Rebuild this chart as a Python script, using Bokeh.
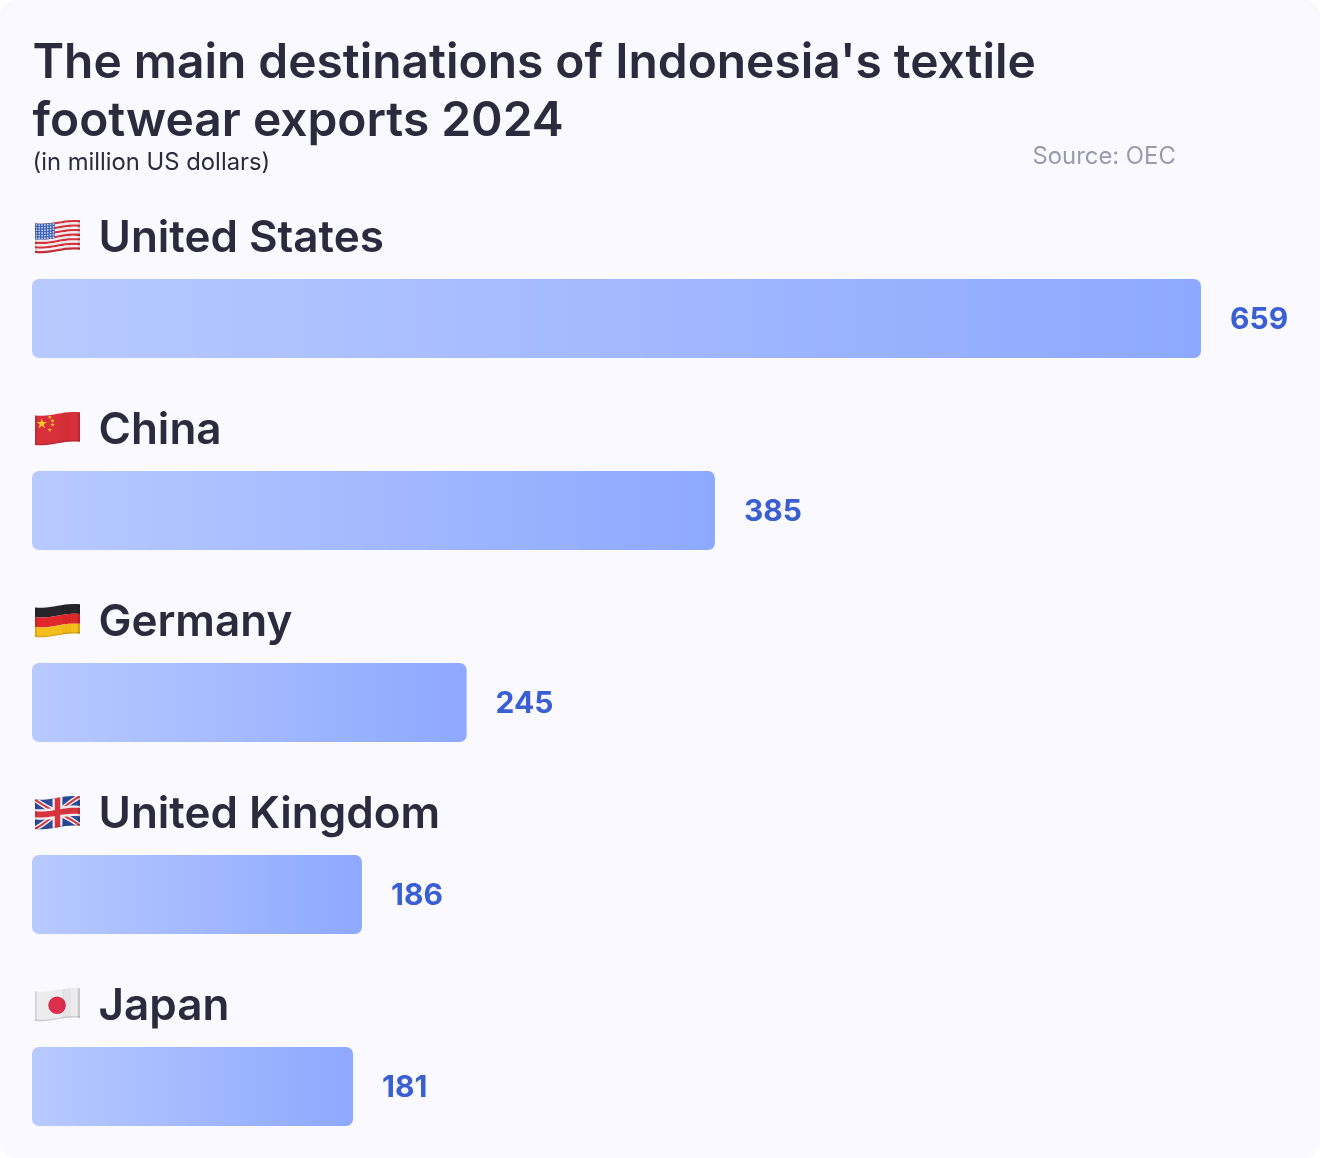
import numpy as np
from bokeh.plotting import figure
from bokeh.models import Range1d
from bokeh.core.properties import value
from bokeh.embed import file_html
from bokeh.resources import INLINE

# ---------- data ----------
countries = ["United States", "China", "Germany", "United Kingdom", "Japan"]
export_values = [659, 385, 245, 186, 181]
flag_codes = ["us", "cn", "de", "gb", "jp"]
title_lines = ["The main destinations of Indonesia's textile", "footwear exports 2024"]
subtitle = "(in million US dollars)"
source_note = "Source: OEC"

# ---------- layout constants ----------
W, H = 1320, 1158
ORIGIN = 32.5
PX_PER_UNIT = 1169 / 659
FIRST_TOP, BAR_H, STEP = 279.5, 79, 192
FONT = value("Inter")
HEAVY = value("Inter SemiBold")
INK = "#2B2B3D"
BG = "#F9F9FF"
C_LEFT = np.array([184, 201, 255])
C_RIGHT = np.array([141, 169, 255])
BASE = 0.37  # svg baseline correction, in em

p = figure(width=W + 1, height=H + 1, output_backend="svg", toolbar_location=None,
           x_range=Range1d(-ORIGIN / PX_PER_UNIT, (W + 1 - ORIGIN) / PX_PER_UNIT),
           y_range=Range1d(H + 1, 0), min_border=0, x_axis_type="linear")
p.styles = {"position": "fixed", "left": "-1px", "top": "-1px"}
p.axis.visible = False
p.grid.visible = False
p.outline_line_color = None
p.background_fill_color = "white"
p.border_fill_color = "white"
p.extra_x_ranges["px"] = Range1d(0, W + 1)

# card
p.quad(left=[0], right=[W + 1], top=[0], bottom=[H + 1], x_range_name="px",
       fill_color=BG, line_color=None, border_radius=18)


# ---------- gradient bars ----------
def hexc(c):
    return "#%02x%02x%02x" % tuple(int(round(v)) for v in c)


for i, val in enumerate(export_values):
    top = FIRST_TOP + i * STEP
    bottom = top + BAR_H
    length = val * PX_PER_UNIT
    inner = np.arange(8, length - 8, 4.0)
    edges_px = np.concatenate([[0], inner, [length]])
    edges = edges_px / PX_PER_UNIT
    mids = (edges_px[:-1] + edges_px[1:]) / 2 / length
    colors = [hexc(C_LEFT + (C_RIGHT - C_LEFT) * x) for x in mids]
    over = 1 / PX_PER_UNIT
    n = len(colors)
    p.quad(left=edges[1:n - 1], right=edges[2:n] + over,
           top=top, bottom=bottom, fill_color=colors[1:-1], line_color=None)
    p.quad(left=[edges[0]], right=[edges[1] + over], top=top, bottom=bottom,
           fill_color=colors[0], line_color=None, border_radius=(7, 0, 0, 7))
    p.quad(left=[edges[-2]], right=[edges[-1]], top=top, bottom=bottom,
           fill_color=colors[-1], line_color=None, border_radius=(0, 7, 7, 0))

# value labels
p.text(x=export_values, y=[FIRST_TOP + i * STEP + 50 - BASE * 30 for i in range(5)],
       text=[str(v) for v in export_values], x_offset=29,
       text_font=FONT, text_font_style="bold", text_font_size="30px",
       text_color="#3A5FD3", text_baseline="alphabetic")

# country labels
p.text(x=[99] * 5, y=[253 - BASE * 44 + i * STEP for i in range(5)], text=countries, x_range_name="px",
       text_font=HEAVY, text_font_size="44px",
       text_color=INK, text_baseline="alphabetic")

# headings
p.text(x=[33, 33], y=[79 - BASE * 48, 137 - BASE * 48], text=title_lines, x_range_name="px",
       text_font=HEAVY, text_font_size="47.9px",
       text_color=INK, text_baseline="alphabetic")
p.text(x=[33], y=[171 - BASE * 24], text=[subtitle], x_range_name="px",
       text_font=FONT, text_font_size="23.8px", text_color=INK, text_baseline="alphabetic")
p.text(x=[1033], y=[165 - BASE * 24], text=[source_note], x_range_name="px",
       text_font=FONT, text_font_size="23.85px", text_color="#9A9AAC", text_baseline="alphabetic")


# ---------- waving flags ----------
FX, FW, FH = 35.5, 45, 29.5


def warp(u, v, ftop):
    u = np.asarray(u, float)
    v = np.asarray(v, float)
    off = -3.3 * (1 - np.cos(np.pi * u)) / 2 + 0.5 * np.sin(2 * np.pi * u)
    return FX + FW * u, ftop + FH * v + off


def poly(pts, ftop, color, alpha=1.0):
    us, vs = [], []
    m = len(pts)
    for k in range(m):
        a, b = pts[k], pts[(k + 1) % m]
        s = np.linspace(0, 1, 12, endpoint=False)
        us.extend(a[0] + (b[0] - a[0]) * s)
        vs.extend(a[1] + (b[1] - a[1]) * s)
    x, y = warp(us, vs, ftop)
    p.patch(x, y, x_range_name="px", fill_color=color, fill_alpha=alpha, line_color=None)


def box(u0, u1, v0, v1):
    return [(u0, v0), (u1, v0), (u1, v1), (u0, v1)]


def dots(points, ftop, color, size, marker="circle"):
    x, y = warp([a for a, _ in points], [b for _, b in points], ftop)
    p.scatter(x, y, x_range_name="px", size=size, marker=marker,
              fill_color=color, line_color=None)


def flag(code, ftop):
    if code == "us":
        for s in range(13):
            poly(box(0, 1, s / 13, (s + 1) / 13), ftop, "#D8343F" if s % 2 == 0 else "#F3EFEF")
        poly(box(0, 0.44, 0, 7 / 13), ftop, "#3B5FB5")
        pts = [((a + 0.5) / 7 * 0.44, (b + 0.5) / 6 * 7 / 13) for a in range(7) for b in range(6)]
        dots(pts, ftop, "#C9D6F2", 1.8)
    elif code == "cn":
        poly(box(0, 1, 0, 1), ftop, "#D8303A")
        dots([(0.15, 0.27)], ftop, "#F6C92B", 11, "star")
        dots([(0.33, 0.07), (0.39, 0.2), (0.39, 0.34), (0.33, 0.5)], ftop, "#F6C92B", 4.5, "star")
    elif code == "de":
        poly(box(0, 1, 0, 1 / 3), ftop, "#26262A")
        poly(box(0, 1, 1 / 3, 2 / 3), ftop, "#E0272B")
        poly(box(0, 1, 2 / 3, 1), ftop, "#F6BE1A")
    elif code == "gb":
        poly(box(0, 1, 0, 1), ftop, "#2B4A9A")
        for d, c in [(0.1, "#F3EFEF"), (0.04, "#D8343F")]:
            poly([(0, 0), (d, 0), (1, 1 - d), (1, 1), (1 - d, 1), (0, d)], ftop, c)
            poly([(1, 0), (1, d), (d, 1), (0, 1), (0, 1 - d), (1 - d, 0)], ftop, c)
        poly(box(0.39, 0.61, 0, 1), ftop, "#F3EFEF")
        poly(box(0, 1, 0.32, 0.68), ftop, "#F3EFEF")
        poly(box(0.44, 0.56, 0, 1), ftop, "#D8343F")
        poly(box(0, 1, 0.4, 0.6), ftop, "#D8343F")
    elif code == "jp":
        poly(box(0, 1, 0, 1), ftop, "#ECECEF")
        dots([(0.49, 0.52)], ftop, "#DC2F4C", 17.5)
    # soft fold shading
    poly(box(0, 0.04, 0, 1), ftop, "#000000", 0.10)
    poly(box(0.95, 1, 0, 1), ftop, "#000000", 0.14)
    poly(box(0, 1, 0.95, 1), ftop, "#000000", 0.12)
    poly(box(0.6, 0.8, 0, 1), ftop, "#000000", 0.03)


for i, code in enumerate(flag_codes):
    flag(code, 224 + i * STEP)

open("out.html", "w").write(file_html(p, INLINE))
